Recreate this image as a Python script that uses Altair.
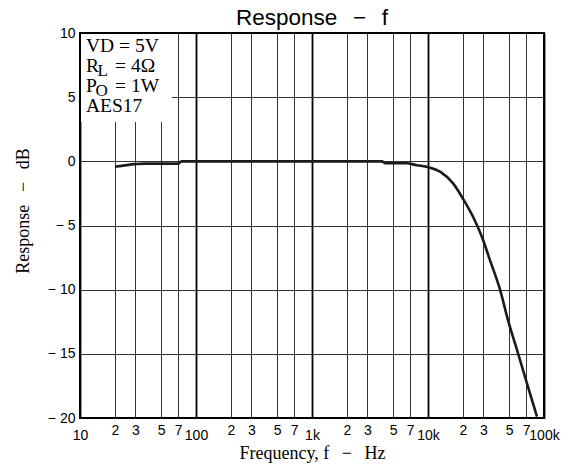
import altair as alt
import pandas as pd

# ---- data ----
freq_hz = [20, 30, 36, 50, 70, 75, 100, 200, 500, 1000, 2000, 4000, 4300, 5000,
           6500, 8000, 10000, 12700, 16400, 20000, 24400, 29200, 34200, 41800,
           49000, 58500, 71300, 87000]
resp_db = [-0.42, -0.22, -0.18, -0.18, -0.18, 0.0, 0.0, 0.0, 0.0, 0.0, 0.0, 0.0,
           -0.15, -0.15, -0.15, -0.3, -0.45, -0.8, -1.7, -2.9, -4.3, -5.9, -7.7,
           -10.0, -12.4, -14.7, -17.3, -19.9]

x_ticks = [10, 20, 30, 50, 70, 100, 200, 300, 500, 700, 1000, 2000, 3000, 5000,
           7000, 10000, 20000, 30000, 50000, 70000, 100000]
x_tick_labels = ["10", "2", "3", "5", "7", "100", "2", "3", "5", "7", "1k",
                 "2", "3", "5", "7", "10k", "2", "3", "5", "7", "100k"]
decades = [10, 100, 1000, 10000, 100000]

y_ticks = [-20, -15, -10, -5, 0, 5, 10]
y_tick_labels = ["\u2212 20", "\u2212 15", "\u2212 10", "\u2212 5", "0", "5", "10"]

x_domain = [10, 100000]
y_domain = [-20, 10]

chart_title = "Response\u2002\u2009\u2212\u2002\u2009f"
x_title = "Frequency, f\u2002\u2009\u2212\u2002\u2009Hz"
y_title = "Response\u2002\u2009\u2212\u2002\u2009dB"

# legend box (in data units) and legend text rows
legend_box = {"f1": [10], "f2": [62], "d1": [3.06], "d2": [10]}
legend_anchor_f = 11.27
legend_main = ["VD = 5V", "R", "P", "AES17"]
legend_main_db = [8.5, 6.95, 5.4, 3.85]
legend_sub = ["L", "O"]
legend_sub_db = [6.95, 5.4]
legend_rest = ["= 4Ω", "= 1W"]
legend_rest_db = [6.95, 5.4]

# ---- build ----
curve_df = pd.DataFrame({"f": freq_hz, "db": resp_db})

x_scale = alt.Scale(type="log", domain=x_domain, nice=False)
y_scale = alt.Scale(domain=y_domain, nice=False, zero=False)

def arr(v):
    return "[" + ",".join(repr(s) if isinstance(s, str) else str(s) for s in v) + "]"

x_label_expr = f"{arr(x_tick_labels)}[indexof({arr(x_ticks)}, datum.value)]"
y_label_expr = f"{arr(y_tick_labels)}[indexof({arr(y_ticks)}, datum.value)]"
is_decade = f"indexof({arr(decades)}, datum.value) >= 0"

x_axis = alt.Axis(
    values=x_ticks,
    labelExpr=x_label_expr,
    labelPadding={"expr": f"{is_decade} ? 21 : 16"},
    labelBaseline="alphabetic",
    labelAlign="center",
    labelFlush=False,
    labelOverlap=False,
    labelFont="Liberation Sans",
    labelFontSize=14,
    labelColor="black",
    ticks=False,
    tickSize=0,
    domain=False,
    grid=True,
    gridColor={"expr": f"{is_decade} ? '#000000' : '#333333'"},
    gridWidth={"expr": f"{is_decade} ? 1.8 : 1"},
    title=x_title,
    titleFont="Liberation Serif",
    titleFontSize=18,
    titleFontWeight="normal",
    titleColor="black",
    titleBaseline="alphabetic",
    titleY=40,
)

y_axis = alt.Axis(
    values=y_ticks,
    labelExpr=y_label_expr,
    labelPadding=5,
    labelFont="Liberation Sans",
    labelFontSize=14,
    labelColor="black",
    ticks=False,
    tickSize=0,
    domain=False,
    grid=True,
    gridColor="#333333",
    gridWidth=1,
    title=y_title,
    titleFont="Liberation Serif",
    titleFontSize=18,
    titleFontWeight="normal",
    titleColor="black",
    titleBaseline="alphabetic",
    titleX=-52,
    titleY=177.5,
    titleAlign="center",
    titleAngle=270,
)

line = alt.Chart(curve_df).mark_line(
    color="#1a1a1a", strokeWidth=2.6, interpolate="monotone"
).encode(
    x=alt.X("f:Q", scale=x_scale, axis=x_axis),
    y=alt.Y("db:Q", scale=y_scale, axis=y_axis),
)

box = alt.Chart(pd.DataFrame(legend_box)).mark_rect(fill="white").encode(
    x=alt.X("f1:Q", scale=x_scale), x2="f2:Q",
    y=alt.Y("d1:Q", scale=y_scale), y2="d2:Q",
)

frame_df = pd.DataFrame({"f1": [x_domain[0]], "f2": [x_domain[1]],
                         "d1": [y_domain[0]], "d2": [y_domain[1]]})
frame = alt.Chart(frame_df).mark_rect(filled=False, stroke="black", strokeWidth=2).encode(
    x=alt.X("f1:Q", scale=x_scale), x2="f2:Q",
    y=alt.Y("d1:Q", scale=y_scale), y2="d2:Q",
)

txt_style = dict(font="Liberation Serif", fontSize=19.5, color="black",
                 align="left", baseline="alphabetic")

main_txt = alt.Chart(pd.DataFrame({"t": legend_main, "db": legend_main_db,
                                   "f": [legend_anchor_f] * len(legend_main)})).mark_text(**txt_style).encode(
    x=alt.X("f:Q", scale=x_scale), y=alt.Y("db:Q", scale=y_scale), text="t:N")

sub_layers = []
for t, d, dx in zip(legend_sub, legend_sub_db, [11.5, 9.5]):
    sub_layers.append(
        alt.Chart(pd.DataFrame({"t": [t], "db": [d], "f": [legend_anchor_f]})).mark_text(
            font="Liberation Serif", fontSize=17, color="black", align="left",
            baseline="alphabetic", dx=dx, dy=4).encode(
            x=alt.X("f:Q", scale=x_scale), y=alt.Y("db:Q", scale=y_scale), text="t:N"))

rest_txt = alt.Chart(pd.DataFrame({"t": legend_rest, "db": legend_rest_db,
                                   "f": [legend_anchor_f] * len(legend_rest)})).mark_text(
    dx=29, **txt_style).encode(
    x=alt.X("f:Q", scale=x_scale), y=alt.Y("db:Q", scale=y_scale), text="t:N")

title_txt = alt.Chart(pd.DataFrame({"t": [chart_title]})).mark_text(
    font="Liberation Sans", fontSize=22.5, color="black", align="center",
    baseline="alphabetic").encode(
    x=alt.value(232), y=alt.value(-8), text="t:N")

chart = alt.layer(line, box, main_txt, *sub_layers, rest_txt, frame, title_txt).properties(
    width=464,
    height=385,
    autosize=alt.AutoSizeParams(type="none"),
    padding={"left": 72, "top": 25, "right": 19, "bottom": 46},
).configure_view(stroke=None)

chart.save("out.html", embed_options={"renderer": "svg", "actions": False})
